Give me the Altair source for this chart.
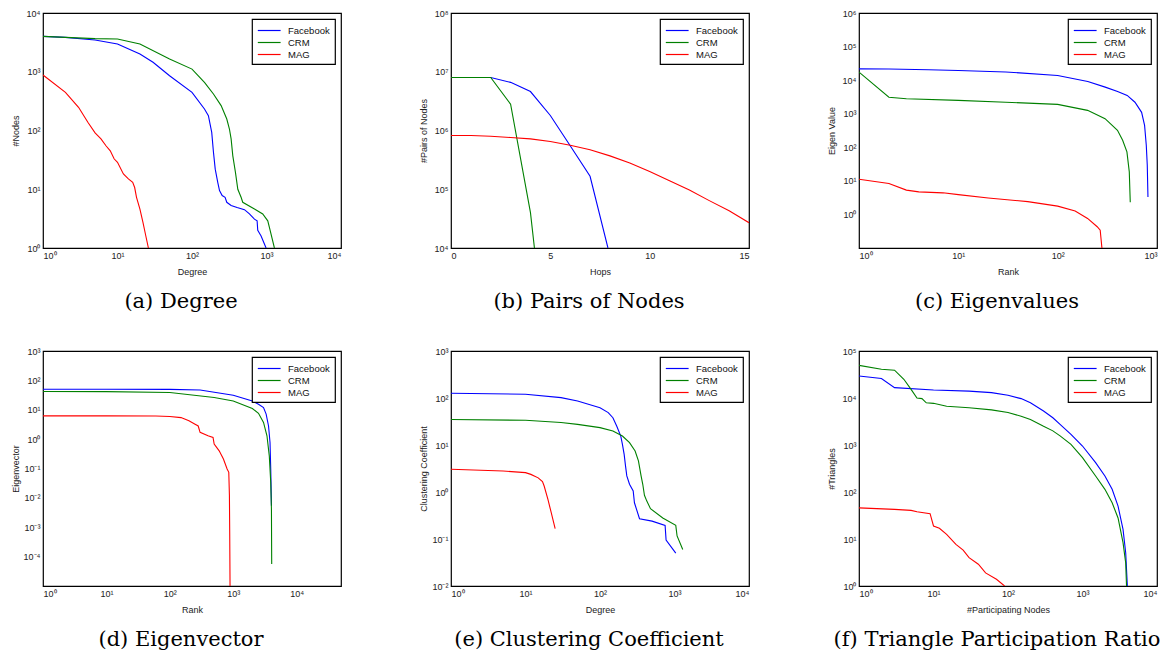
import altair as alt
import pandas as pd

SERIES = ["Facebook", "CRM", "MAG"]
COLORS = ["#0000ff", "#008000", "#ff0000"]

# (a) Degree
a_fb_x = [1, 2, 5, 10, 20, 30, 50, 100, 147, 166, 184, 194, 205, 222, 234, 254, 278, 293, 335, 403, 506, 590, 689, 748, 763, 846, 987]
a_fb_y = [4000, 3850, 3470, 2967, 2000, 1450, 855, 446, 232, 179, 93, 43, 22, 13, 9.5, 7.8, 7.3, 6.0, 5.3, 4.9, 4.5, 3.8, 3.1, 2.9, 2.0, 1.6, 1.0]
a_crm_x = [1, 2, 5, 10, 20, 50, 100, 147, 194, 246, 293, 318, 335, 353, 383, 412, 456, 480, 689, 890, 1040, 1094, 1277]
a_crm_y = [4000, 3850, 3660, 3600, 2960, 1650, 1110, 660, 418, 265, 157, 106, 72, 37, 19.4, 10, 7.3, 6.0, 4.6, 3.8, 2.9, 2.25, 1.0]
a_mag_x = [1, 2, 3, 4, 5, 6, 7, 8, 9, 10, 12, 14, 16, 17, 18, 20, 22, 24, 26]
a_mag_y = [881, 446, 248, 138, 91, 72, 55, 45, 33, 28.7, 18.2, 15, 13.1, 10.7, 7.3, 4.6, 2.7, 1.6, 1.0]

# (b) Pairs of Nodes
b_fb_x = [0, 1, 2, 3, 4, 5, 6, 7, 7.9]
b_fb_y = [8.0e6, 8.0e6, 8.0e6, 6.6e6, 4.6e6, 1.8e6, 5.5e5, 1.66e5, 1.0e4]
b_crm_x = [0, 1, 2, 3, 4, 4.2]
b_crm_y = [8.0e6, 8.0e6, 8.0e6, 2.8e6, 4.0e4, 1.0e4]
b_mag_x = [0, 1, 2, 3, 4, 5, 6, 7, 8, 9, 10, 11, 12, 13, 14, 15]
b_mag_y = [8.2e5, 8.2e5, 8.0e5, 7.6e5, 7.2e5, 6.5e5, 5.6e5, 4.7e5, 3.7e5, 2.8e5, 2.0e5, 1.4e5, 9.7e4, 6.4e4, 4.3e4, 2.7e4]

# (c) Eigenvalues
c_fb_x = [1, 2, 5, 10, 30, 100, 201, 301, 401, 501, 600, 700, 750, 780, 798, 811]
c_fb_y = [2.17e4, 2.15e4, 2.05e4, 1.94e4, 1.75e4, 1.38e4, 9.1e3, 6.2e3, 4.6e3, 3.5e3, 2.2e3, 1.1e3, 450, 115, 29, 3.3]
c_crm_x = [1, 2, 3, 10, 30, 100, 200, 300, 400, 451, 498, 526, 538]
c_crm_y = [1.73e4, 3.1e3, 2.8e3, 2.5e3, 2.2e3, 1.9e3, 1.26e3, 710, 320, 161, 73, 18.5, 2.3]
c_mag_x = [1, 2, 3, 4, 7, 10, 20, 50, 100, 150, 200, 250, 268, 279]
c_mag_y = [11.2, 8.3, 5.3, 4.7, 4.4, 3.9, 3.1, 2.4, 1.77, 1.26, 0.76, 0.43, 0.34, 0.1]

# (d) Eigenvector
d_fb_x = [1, 10, 100, 300, 1000, 2000, 2500, 3000, 3300, 3600, 3800, 3900, 4000]
d_fb_y = [50, 50, 49.5, 47, 31, 20, 15.4, 11.9, 7.1, 2.8, 0.77, 0.096, 0.0054]
d_crm_x = [1, 10, 100, 500, 1000, 2000, 2500, 3000, 3400, 3700, 3900, 4000, 4039]
d_crm_y = [42, 41.5, 38.5, 26, 20, 11, 7.6, 3.7, 1.3, 0.27, 0.034, 0.0042, 5.6e-5]
d_mag_x = [1, 10, 60, 100, 150, 200, 250, 280, 300, 400, 480, 500, 600, 700, 800, 850, 870, 880, 890]
d_mag_y = [6.2, 6.2, 6.1, 5.9, 5.4, 4.2, 3.2, 2.8, 1.7, 1.3, 1.14, 0.68, 0.40, 0.21, 0.096, 0.074, 0.012, 5e-4, 1e-5]

# (e) Clustering Coefficient
e_fb_x = [1, 10, 30, 50, 100, 129, 149, 168, 190, 200, 211, 220, 229, 249, 279, 290, 339, 500, 748, 771, 1040]
e_fb_y = [126, 120, 102, 86, 62, 49, 38, 25, 15.5, 10.3, 6.3, 3.6, 2.2, 1.46, 1.05, 0.59, 0.27, 0.24, 0.195, 0.095, 0.05]
e_crm_x = [1, 10, 30, 50, 100, 149, 200, 249, 296, 328, 356, 375, 395, 425, 476, 696, 1040, 1083, 1290]
e_crm_y = [35, 33.5, 30, 27.5, 23.4, 19.9, 15.5, 11.2, 7.45, 4.6, 2.2, 1.46, 0.85, 0.64, 0.44, 0.28, 0.195, 0.116, 0.06]
e_mag_x = [1, 5, 10, 11.8, 14.8, 16.9, 17.8, 20, 21.9, 25]
e_mag_y = [3.04, 2.8, 2.58, 2.37, 2.0, 1.66, 1.34, 0.70, 0.39, 0.166]

# (f) Triangle Participation Ratio
f_fb_x = [1, 2, 3, 10, 30, 60, 100, 150, 200, 300, 400, 500, 700, 1000, 1500, 2000, 2500, 3000, 3500, 3800, 4000]
f_fb_y = [2.94e4, 2.6e4, 1.66e4, 1.48e4, 1.4e4, 1.3e4, 1.14e4, 9.7e3, 7.9e3, 5.3e3, 3.8e3, 2.75e3, 1.69e3, 952, 421, 219, 114, 50, 16, 5.1, 1]
f_crm_x = [1, 2, 3, 4, 5, 6, 7, 8, 10, 15, 30, 60, 100, 150, 200, 300, 400, 500, 700, 1000, 1500, 2000, 2500, 3000, 3500, 3800, 3900]
f_crm_y = [4.95e4, 4.1e4, 3.9e4, 2.5e4, 1.53e4, 1.0e4, 9.7e3, 7.9e3, 7.7e3, 6.7e3, 6.2e3, 5.6e3, 4.9e3, 4.1e3, 3.5e3, 2.5e3, 2.0e3, 1.56e3, 1.03e3, 537, 219, 114, 59, 28, 8.4, 3.1, 1]
f_mag_x = [1, 3, 5, 6, 9, 10, 12, 15, 20, 25, 30, 40, 50, 70, 90]
f_mag_y = [46, 42.6, 40.7, 38, 34.6, 18.9, 16.9, 12.6, 7.7, 5.8, 4.0, 2.9, 1.9, 1.39, 1.0]

SUP = "'10' + replace(replace(replace(replace(replace(replace(replace(replace(replace(replace(replace(toString(round(log(datum.value)/LN10)),'-','⁻'),'0','⁰'),'1','¹'),'2','²'),'3','³'),'4','⁴'),'5','⁵'),'6','⁶'),'7','⁷'),'8','⁸'),'9','⁹')"


def frame(fb, crm, mag):
    rows = []
    for name, (xs, ys) in zip(SERIES, [fb, crm, mag]):
        for i, (xv, yv) in enumerate(zip(xs, ys)):
            rows.append({"x": xv, "y": yv, "series": name, "i": i})
    return pd.DataFrame(rows)


def decades(lo, hi):
    return [10.0 ** k for k in range(lo, hi + 1)]


def panel(df, xdom, ydom, xlog, xvals, yvals, xtitle, ytitle, caption):
    if xlog:
        xscale = alt.Scale(type="log", domain=xdom, nice=False)
        xaxis = alt.Axis(title=xtitle, values=xvals, labelExpr=SUP)
    else:
        xscale = alt.Scale(type="linear", domain=xdom, nice=False)
        xaxis = alt.Axis(title=xtitle, values=xvals)
    yscale = alt.Scale(type="log", domain=ydom, nice=False)
    yaxis = alt.Axis(title=ytitle, values=yvals, labelExpr=SUP)
    return alt.Chart(df).mark_line(clip=True, strokeWidth=1.1).encode(
        x=alt.X("x:Q", scale=xscale, axis=xaxis),
        y=alt.Y("y:Q", scale=yscale, axis=yaxis),
        color=alt.Color("series:N",
                        scale=alt.Scale(domain=SERIES, range=COLORS),
                        sort=SERIES,
                        legend=alt.Legend(title=None, orient="top-right")),
        order="i:Q",
    ).properties(
        width=298, height=235,
        title=alt.TitleParams(caption, orient="bottom", anchor="middle", frame="group",
                              offset=15, dx=-11, font="DejaVu Serif", fontSize=21,
                              fontWeight="normal", color="black"),
    )


pa = panel(frame((a_fb_x, a_fb_y), (a_crm_x, a_crm_y), (a_mag_x, a_mag_y)),
           [1, 1e4], [1, 1e4], True, decades(0, 4), decades(0, 4), "Degree", "#Nodes", "(a) Degree")
pb = panel(frame((b_fb_x, b_fb_y), (b_crm_x, b_crm_y), (b_mag_x, b_mag_y)),
           [0, 15], [1e4, 1e8], False, [0, 5, 10, 15], decades(4, 8), "Hops", "#Pairs of Nodes", "(b) Pairs of Nodes")
pc = panel(frame((c_fb_x, c_fb_y), (c_crm_x, c_crm_y), (c_mag_x, c_mag_y)),
           [1, 1e3], [0.1, 1e6], True, decades(0, 3), decades(0, 6), "Rank", "Eigen Value", "(c) Eigenvalues")
pd_ = panel(frame((d_fb_x, d_fb_y), (d_crm_x, d_crm_y), (d_mag_x, d_mag_y)),
            [1, 5e4], [1e-5, 1e3], True, decades(0, 4), decades(-4, 3), "Rank", "Eigenvector", "(d) Eigenvector")
pe = panel(frame((e_fb_x, e_fb_y), (e_crm_x, e_crm_y), (e_mag_x, e_mag_y)),
           [1, 1e4], [1e-2, 1e3], True, decades(0, 4), decades(-2, 3), "Degree", "Clustering Coefficient", "(e) Clustering Coefficient")
pf = panel(frame((f_fb_x, f_fb_y), (f_crm_x, f_crm_y), (f_mag_x, f_mag_y)),
           [1, 1e4], [1, 1e5], True, decades(0, 4), decades(0, 5), "#Participating Nodes", "#Triangles", "(f) Triangle Participation Ratio")

chart = alt.concat(pa, pb, pc, pd_, pe, pf, columns=3,
                   spacing=alt.RowColnumber(row=103, column=110),
                   bounds="flush").resolve_scale(color="independent").resolve_legend(color="independent").properties(
    padding={"left": 2, "top": 0, "right": 0, "bottom": 0}
).configure_view(
    stroke="black", strokeWidth=1.2
).configure_axis(
    grid=False, domain=False, ticks=False,
    labelFont="Liberation Sans", labelFontSize=9, labelColor="#222", labelPadding=3,
    titleFont="Liberation Sans", titleFontSize=9, titleFontWeight="normal", titleColor="#222",
).configure_axisX(
    titleY=23, titleBaseline="middle"
).configure_axisY(
    titleX=-28, titleBaseline="middle"
).configure_legend(
    strokeColor="black", strokeWidth=1.2, fillColor="white", padding=5, offset=6,
    cornerRadius=0, symbolType="M-1,0L3,0", symbolSize=130, symbolStrokeWidth=1.2,
    labelFont="Liberation Sans", labelFontSize=9.5, labelColor="#111", labelOffset=18,
    rowPadding=1,
)

chart.save("out.html", embed_options={"renderer": "svg", "actions": False})
